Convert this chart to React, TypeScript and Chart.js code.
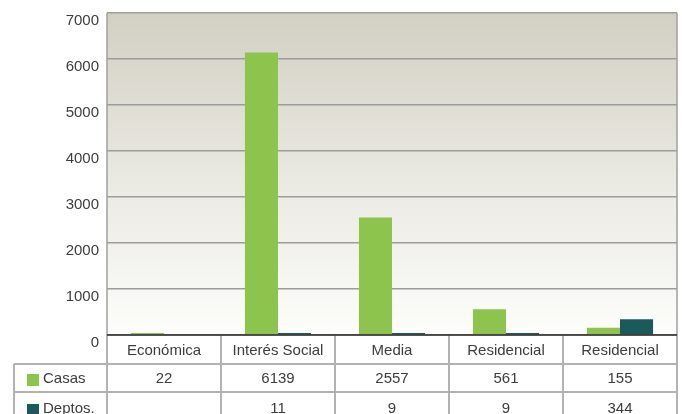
import React, { useEffect, useRef } from "react";
import { Chart, registerables } from "chart.js";

Chart.register(...registerables);

const categories = ["Económica", "Interés Social", "Media", "Residencial", "Residencial"];
const casas = [22, 6139, 2557, 561, 155];
const deptos: (number | null)[] = [null, 11, 9, 9, 344];
const yTicks = [0, 1000, 2000, 3000, 4000, 5000, 6000, 7000];
const seriesNames = ["Casas", "Deptos."];
const seriesColors = ["#8cc44e", "#1b5a5a"];

const FONT = '15px "Liberation Sans", Arial, sans-serif';

const bgPlugin = {
  id: "bgGradient",
  beforeDraw(chart: any) {
    const { ctx, chartArea } = chart;
    const g = ctx.createLinearGradient(0, chartArea.top, 0, chartArea.bottom);
    g.addColorStop(0, "#d2d0c3");
    g.addColorStop(0.5, "#e9e8e1");
    g.addColorStop(1, "#fdfdfb");
    ctx.save();
    ctx.fillStyle = g;
    ctx.fillRect(chartArea.left, chartArea.top, chartArea.right - chartArea.left, chartArea.bottom - chartArea.top);
    ctx.restore();
  },
};

const tablePlugin = {
  id: "dataTable",
  afterDraw(chart: any) {
    const { ctx, chartArea } = chart;
    const xs = chart.scales.x;
    const left = chartArea.left;
    const right = chartArea.right;
    const bottom = chartArea.bottom;
    const n = categories.length;
    const cw = (right - left) / n;
    const tableLeft = 14;
    const row1 = bottom + 29;
    const row2 = row1 + 28;
    const endY = 416;
    ctx.save();
    ctx.strokeStyle = "#a0a0a0";
    ctx.lineWidth = 1.5;
    ctx.beginPath();
    ctx.moveTo(left, chartArea.top);
    ctx.lineTo(left, bottom);
    ctx.moveTo(right, chartArea.top);
    ctx.lineTo(right, bottom);
    ctx.stroke();
    ctx.strokeStyle = "#b2b2b2";
    ctx.lineWidth = 2;
    ctx.beginPath();
    for (let i = 0; i <= n; i++) {
      const x = left + i * cw;
      ctx.moveTo(x, bottom);
      ctx.lineTo(x, endY);
    }
    ctx.moveTo(tableLeft, row1);
    ctx.lineTo(tableLeft, endY);
    ctx.moveTo(tableLeft, row1);
    ctx.lineTo(right, row1);
    ctx.moveTo(tableLeft, row2);
    ctx.lineTo(right, row2);
    ctx.stroke();
    ctx.strokeStyle = "#2a2a2a";
    ctx.lineWidth = 1.5;
    ctx.beginPath();
    ctx.moveTo(left, bottom);
    ctx.lineTo(right, bottom);
    ctx.stroke();
    ctx.fillStyle = "#3c3c3c";
    ctx.font = FONT;
    ctx.textAlign = "center";
    ctx.textBaseline = "middle";
    categories.forEach((c, i) => {
      const cx = xs.getPixelForValue(i);
      ctx.fillText(c, cx, bottom + 16);
      ctx.fillText(String(casas[i]), cx, row1 + 15);
      const d = deptos[i];
      if (d !== null && d !== undefined) ctx.fillText(String(d), cx, row2 + 17);
    });
    ctx.textAlign = "left";
    [row1, row2].forEach((ry, k) => {
      const off = k === 0 ? 0 : 2;
      ctx.fillStyle = seriesColors[k];
      ctx.fillRect(27, ry + 10 + off, 12, 12);
      ctx.fillStyle = "#3c3c3c";
      ctx.fillText(seriesNames[k], 43, ry + 15 + off);
    });
    ctx.restore();
  },
};

export default function App() {
  const ref = useRef<HTMLCanvasElement>(null);
  useEffect(() => {
    if (!ref.current) return;
    const chart = new Chart(ref.current, {
      type: "bar",
      data: {
        labels: categories,
        datasets: [
          { label: seriesNames[0], data: casas, backgroundColor: seriesColors[0], categoryPercentage: 0.58, barPercentage: 1, minBarLength: 2 },
          { label: seriesNames[1], data: deptos, backgroundColor: seriesColors[1], categoryPercentage: 0.58, barPercentage: 1, minBarLength: 2 },
        ],
      },
      options: {
        responsive: false,
        animation: false,
        layout: { padding: { top: 13, right: 5, bottom: 79, left: 0 } },
        plugins: { legend: { display: false }, tooltip: { enabled: false } },
        scales: {
          x: { display: false },
          y: {
            min: 0,
            max: 7000,
            afterFit(scale: any) {
              scale.width = 107;
              scale.paddingTop = 0;
              scale.paddingBottom = 0;
            },
            afterBuildTicks(scale: any) {
              scale.ticks = yTicks.map((v) => ({ value: v }));
            },
            border: { display: false },
            grid: { color: "#9c9c9c", lineWidth: 1.5, drawTicks: false, tickLength: 0 },
            ticks: {
              padding: 8,
              labelOffset: 8,
              color: "#3c3c3c",
              font: { family: '"Liberation Sans", Arial, sans-serif', size: 15 },
              callback: (v: any) => String(v),
            },
          },
        },
      },
      plugins: [bgPlugin, tablePlugin],
    });
    return () => chart.destroy();
  }, []);
  return (
    <div style={{ position: "absolute", left: 0, top: 0, width: 682, height: 414, background: "#fff" }}>
      <canvas ref={ref} width={682} height={414} style={{ width: 682, height: 414, display: "block" }} />
    </div>
  );
}
